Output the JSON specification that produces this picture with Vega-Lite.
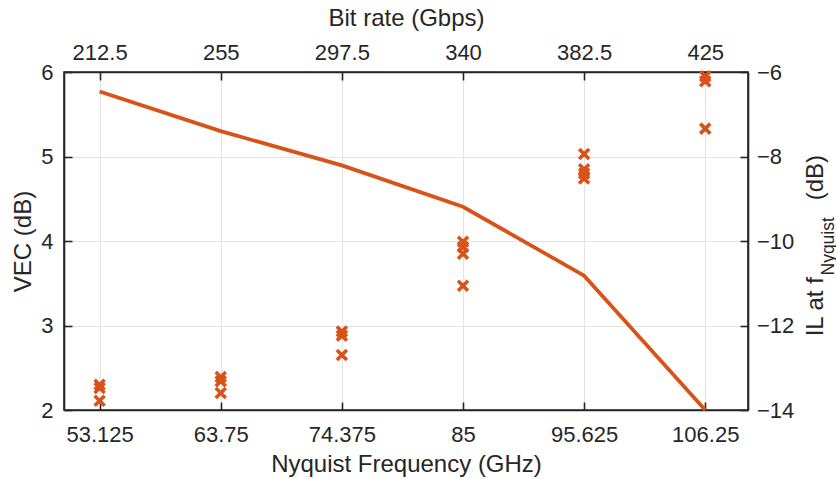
{
  "$schema": "https://vega.github.io/schema/vega-lite/v6.json",
  "width": 684,
  "height": 338,
  "autosize": {"type": "none"},
  "padding": {"left": 64, "top": 72, "right": 88, "bottom": 69},
  "background": "white",
  "config": {
    "font": "Liberation Sans",
    "view": {"stroke": "#262626", "strokeWidth": 1.6},
    "axis": {
      "domainColor": "#262626",
      "domainWidth": 1.6,
      "tickColor": "#262626",
      "tickWidth": 1.6,
      "tickSize": -8,
      "labelColor": "#262626",
      "labelFont": "Liberation Sans",
      "labelFontSize": 22,
      "titleColor": "#262626",
      "titleFont": "Liberation Sans",
      "titleFontSize": 24,
      "titleFontWeight": "normal",
      "gridColor": "#e3e3e3",
      "gridWidth": 1
    }
  },
  "datasets": {
    "vec": [
      {"f": 53.125, "vec": 2.30}, {"f": 53.125, "vec": 2.26}, {"f": 53.125, "vec": 2.11},
      {"f": 63.75, "vec": 2.39}, {"f": 63.75, "vec": 2.34}, {"f": 63.75, "vec": 2.20},
      {"f": 74.375, "vec": 2.93}, {"f": 74.375, "vec": 2.88}, {"f": 74.375, "vec": 2.65},
      {"f": 85, "vec": 3.99}, {"f": 85, "vec": 3.93}, {"f": 85, "vec": 3.85}, {"f": 85, "vec": 3.47},
      {"f": 95.625, "vec": 5.03}, {"f": 95.625, "vec": 4.85}, {"f": 95.625, "vec": 4.80}, {"f": 95.625, "vec": 4.74},
      {"f": 106.25, "vec": 5.95}, {"f": 106.25, "vec": 5.89}, {"f": 106.25, "vec": 5.33}
    ],
    "il": [
      {"f": 53.125, "il": -6.46},
      {"f": 63.75, "il": -7.40},
      {"f": 74.375, "il": -8.21},
      {"f": 85, "il": -9.19},
      {"f": 95.625, "il": -10.82},
      {"f": 106.25, "il": -14}
    ]
  },
  "layer": [
    {
      "data": {"name": "vec"},
      "mark": {
        "type": "point",
        "shape": "M-1,-1L1,1M1,-1L-1,1",
        "filled": false,
        "stroke": "#D95319",
        "strokeWidth": 3.6,
        "size": 100,
        "opacity": 1
      },
      "encoding": {
        "x": {
          "field": "f",
          "type": "quantitative",
          "scale": {"domain": [50, 110], "nice": false, "zero": false},
          "axis": {
            "orient": "bottom",
            "title": "Nyquist Frequency (GHz)",
            "values": [53.125, 63.75, 74.375, 85, 95.625, 106.25],
            "labelExpr": "'' + datum.value",
            "grid": true,
            "labelBaseline": "top",
            "labelPadding": 22.7,
            "titleX": 342,
            "titleY": 61.5,
            "titleAlign": "center",
            "titleBaseline": "alphabetic"
          }
        },
        "y": {
          "field": "vec",
          "type": "quantitative",
          "scale": {"domain": [2, 6], "nice": false, "zero": false},
          "axis": {
            "orient": "left",
            "title": "VEC (dB)",
            "values": [2, 3, 4, 5, 6],
            "grid": true,
            "labelPadding": 19,
            "titleAngle": 270,
            "titleAlign": "center",
            "titleBaseline": "alphabetic",
            "titleX": -34,
            "titleY": 169
          }
        }
      }
    },
    {
      "data": {"name": "il"},
      "mark": {"type": "line", "color": "#D95319", "strokeWidth": 3.8},
      "encoding": {
        "x": {
          "field": "f",
          "type": "quantitative",
          "scale": {"domain": [50, 110], "nice": false, "zero": false},
          "axis": {
            "orient": "top",
            "title": "Bit rate (Gbps)",
            "values": [53.125, 63.75, 74.375, 85, 95.625, 106.25],
            "labelExpr": "'' + (datum.value * 4)",
            "grid": false,
            "labelBaseline": "alphabetic",
            "labelPadding": 20.5,
            "titleX": 342,
            "titleY": -46.5,
            "titleAlign": "center",
            "titleBaseline": "alphabetic"
          }
        },
        "y": {
          "field": "il",
          "type": "quantitative",
          "scale": {"domain": [-14, -6], "nice": false, "zero": false},
          "axis": {
            "orient": "right",
            "title": "IL at f\u2003\u2003\u2003\u2009(dB)",
            "values": [-14, -12, -10, -8, -6],
            "grid": false,
            "labelAlign": "left",
            "labelPadding": 16.5,
            "titleAngle": 270,
            "titleAlign": "right",
            "titleBaseline": "alphabetic",
            "titleX": 74,
            "titleY": 82.5
          }
        }
      }
    },
    {
      "data": {"name": "il"},
      "mark": {"type": "line", "strokeOpacity": 0},
      "encoding": {
        "x": {
          "field": "f",
          "type": "quantitative",
          "scale": {"domain": [50, 110], "nice": false, "zero": false},
          "axis": null
        },
        "y": {
          "field": "il",
          "type": "quantitative",
          "scale": {"domain": [-14, -6], "nice": false, "zero": false},
          "axis": {
            "orient": "right",
            "title": "Nyquist",
            "titleFontSize": 17.5,
            "labels": false,
            "ticks": false,
            "domain": false,
            "grid": false,
            "titleAngle": 270,
            "titleAlign": "left",
            "titleBaseline": "alphabetic",
            "titleX": 85,
            "titleY": 203
          }
        }
      }
    }
  ],
  "resolve": {
    "scale": {"y": "independent"},
    "axis": {"x": "independent", "y": "independent"}
  }
}
